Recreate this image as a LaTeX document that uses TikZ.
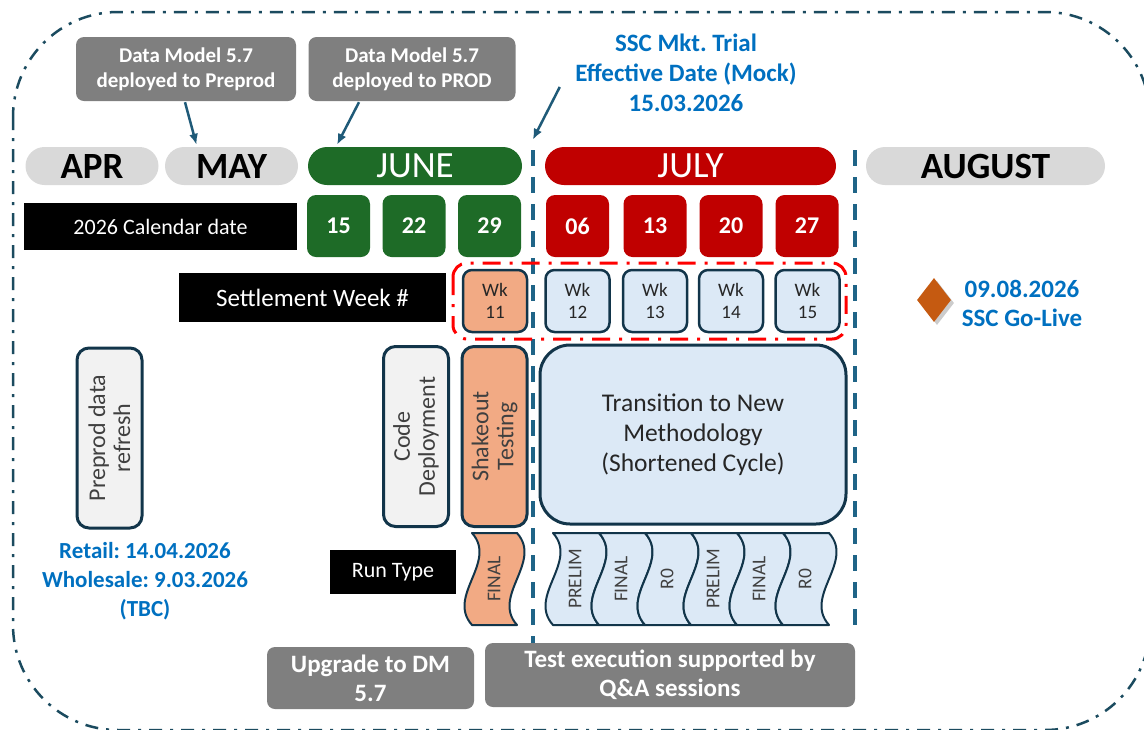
\documentclass[tikz,border=0pt]{standalone}
\usepackage{fontspec}
\setmainfont{Carlito}
\usetikzlibrary{arrows.meta,positioning,shapes.geometric}
\frenchspacing

\definecolor{outerteal}{HTML}{1B4B5F}
\definecolor{sepblue}{HTML}{1F6487}
\definecolor{arrowblue}{HTML}{1F5A78}
\definecolor{boxline}{HTML}{12354A}
\definecolor{calloutgray}{HTML}{7F7F7F}
\definecolor{pillgray}{HTML}{D9D9D9}
\definecolor{junegreen}{HTML}{1E6B27}
\definecolor{julyred}{HTML}{C00000}
\definecolor{shakeorange}{HTML}{F2AA84}
\definecolor{wklight}{HTML}{DCE9F6}
\definecolor{paneltint}{HTML}{F2F2F2}
\definecolor{labelgray}{HTML}{404040}
\definecolor{textblue}{HTML}{0070C0}
\definecolor{golive}{HTML}{C55A11}

\begin{document}
\begin{tikzpicture}[x=1pt,y=-1pt]
    \tikzstyle{callout} = [fill=calloutgray, rounded corners=8, text=white,
    align=center, inner sep=0, font=\bfseries\fontsize{21}{25}\selectfont]
    \tikzstyle{pill} = [rounded corners=19, minimum height=38, inner sep=0,
    font=\fontsize{37}{40}\selectfont]
    \tikzstyle{datebox} = [rounded corners=9, minimum width=63, minimum height=62,
    inner sep=0, text=white, font=\bfseries\fontsize{24}{28}\selectfont]
    \tikzstyle{blackbox} = [fill=black, text=white, inner sep=0,
    font=\fontsize{22}{26}\selectfont]
    \tikzstyle{wkbox} = [draw=boxline, line width=2.5, rounded corners=9, fill=wklight,
    minimum width=64, minimum height=62, inner sep=0, align=center,
    text=black!85, font=\fontsize{19}{22}\selectfont]
    \tikzstyle{tallbox} = [draw=boxline, line width=3, rounded corners=12, rotate=90,
    minimum width=180, minimum height=65, inner sep=0, align=center,
    text=labelgray, font=\fontsize{24}{25}\selectfont]
    \tikzstyle{bluetext} = [text=textblue, align=center,
    font=\bfseries\fontsize{25}{30}\selectfont]
    \tikzstyle{wave} = [draw=boxline, line width=2, line join=round]
    \tikzstyle{wavetext} = [rotate=90, text=labelgray, font=\fontsize{19.5}{21}\selectfont]
    \tikzstyle{sep} = [draw=sepblue, line width=4, dash pattern=on 16pt off 11pt]
    \tikzstyle{link} = [draw=arrowblue, line width=2.5, -{Latex[length=11pt,width=9pt]}]

    \useasboundingbox (0,0) rectangle (1144,729);
    \draw [outerteal, line width=2.5, rounded corners=105,
    dash pattern=on 13pt off 8pt on 3pt off 8pt] (13,12) rectangle (1150,730);

    \draw [sep] (533,150) -- (533,645);
    \draw [sep] (855,150) -- (855,636);

    \path
    (186,69) node [callout, minimum width=220, minimum height=64] (dmpre)
      {Data Model 5.7\\deployed to Preprod}
    (412,69) node [callout, minimum width=207, minimum height=64] (dmprod)
      {Data Model 5.7\\deployed to PROD}
    (686,73) node [bluetext] (mock) {SSC Mkt. Trial\\Effective Date (Mock)\\15.03.2026}

    (92,166) node [pill, fill=pillgray, minimum width=133] (apr) {\bfseries APR}
    (231.5,166) node [pill, fill=pillgray, minimum width=133] (may) {\bfseries MAY}
    (415,166) node [pill, fill=junegreen, text=white, minimum width=214] (june) {JUNE}
    (690.5,166) node [pill, fill=julyred, text=white, minimum width=291] (july) {JULY}
    (985.5,166) node [pill, fill=pillgray, minimum width=239] (aug) {\bfseries AUGUST}

    (160.5,226.5) node [blackbox, minimum width=273, minimum height=47] (caldate)
      {2026 Calendar date}
    (312.5,297.5) node [blackbox, minimum width=267, minimum height=49,
      font=\fontsize{25}{28}\selectfont] (settweek) {Settlement Week \#}
    (393,572) node [blackbox, minimum width=126, minimum height=44] (runtype) {Run Type};

    \foreach \d/\x/\c in {15/338.5/junegreen, 22/414/junegreen, 29/489.5/junegreen,
      06/577.5/julyred, 13/655/julyred, 20/731/julyred, 27/807/julyred}
      \node [datebox, fill=\c] (d\d) at (\x,226) {\d};

    \node [wkbox, fill=shakeorange] (wk11) at (495,301) {Wk\\11};
    \foreach \w/\x in {12/577.5, 13/655, 14/731, 15/807.5}
      \node [wkbox] (wk\w) at (\x,301) {Wk\\\w};
    \draw [red, line width=3, rounded corners=14,
    dash pattern=on 18pt off 9pt on 3pt off 9pt] (453,263) rectangle (846,339);

    \path
    (109.5,438) node [tallbox, fill=paneltint] (refresh) {Preprod data\\refresh}
    (416,436.5) node [tallbox, fill=paneltint] (codedep) {Code\\Deployment}
    (494.5,436.5) node [tallbox, fill=shakeorange] (shakeout) {Shakeout\\Testing}
    (693,434.5) node [wkbox, rounded corners=30, line width=3, minimum width=306,
      minimum height=179, font=\fontsize{25.5}{30}\selectfont] (transition)
      {Transition to New\\Methodology\\(Shortened Cycle)}
    (145,581) node [bluetext, font=\bfseries\fontsize{23}{29}\selectfont] (refreshdates)
      {Retail: 14.04.2026\\Wholesale: 9.03.2026\\(TBC)};

    \draw [wave, fill=shakeorange] (472,533) -- (517,533)
      .. controls (543,562) and (491,596) .. (517,625) -- (472,625)
      .. controls (446,596) and (498,562) .. (472,533) -- cycle;
    \node [wavetext] (run11) at (494,579) {FINAL};
    \foreach \i/\t in {0/PRELIM, 1/FINAL, 2/R0, 3/PRELIM, 4/FINAL, 5/R0} {
      \pgfmathsetmacro\xa{553+46*\i}
      \pgfmathsetmacro\xb{599+46*\i}
      \draw [wave, fill=wklight] (\xa,533) -- (\xb,533)
        .. controls (\xb+26,562) and (\xb-26,596) .. (\xb,625) -- (\xa,625)
        .. controls (\xa-26,596) and (\xa+26,562) .. (\xa,533) -- cycle;
      \node [wavetext] (run\i) at (\xa+22,579) {\t};
    }

    \node [diamond, fill=black, opacity=0.2, minimum width=34, minimum height=44,
      inner sep=0] at (937,303) {};
    \node [diamond, fill=golive, minimum width=34, minimum height=44, inner sep=0]
      (golivemark) at (934,300) {};
    \node [bluetext, font=\bfseries\fontsize{25}{29}\selectfont] (golivetext)
      at (1022,303) {09.08.2026\\SSC Go-Live};

    \path
    (370.5,678) node [callout, minimum width=207, minimum height=62,
      font=\bfseries\fontsize{25}{29}\selectfont] (upgrade) {Upgrade to DM\\5.7}
    (670,675) node [callout, minimum width=370, minimum height=64,
      font=\bfseries\fontsize{25}{29}\selectfont] (qanda)
      {Test execution supported by\\Q\&A sessions};

    \draw [link] ([shift={(-1,1)}]dmpre.south) -- ([shift={(-35,-2)}]may.north);
    \draw [link] ([shift={(-53,1)}]dmprod.south) -- ([shift={(-78,-2)}]june.north);
    \draw [link] ([shift={(-12,14)}]mock.west) -- ([shift={(-12,-7)}]july.north west);
\end{tikzpicture}
\end{document}
